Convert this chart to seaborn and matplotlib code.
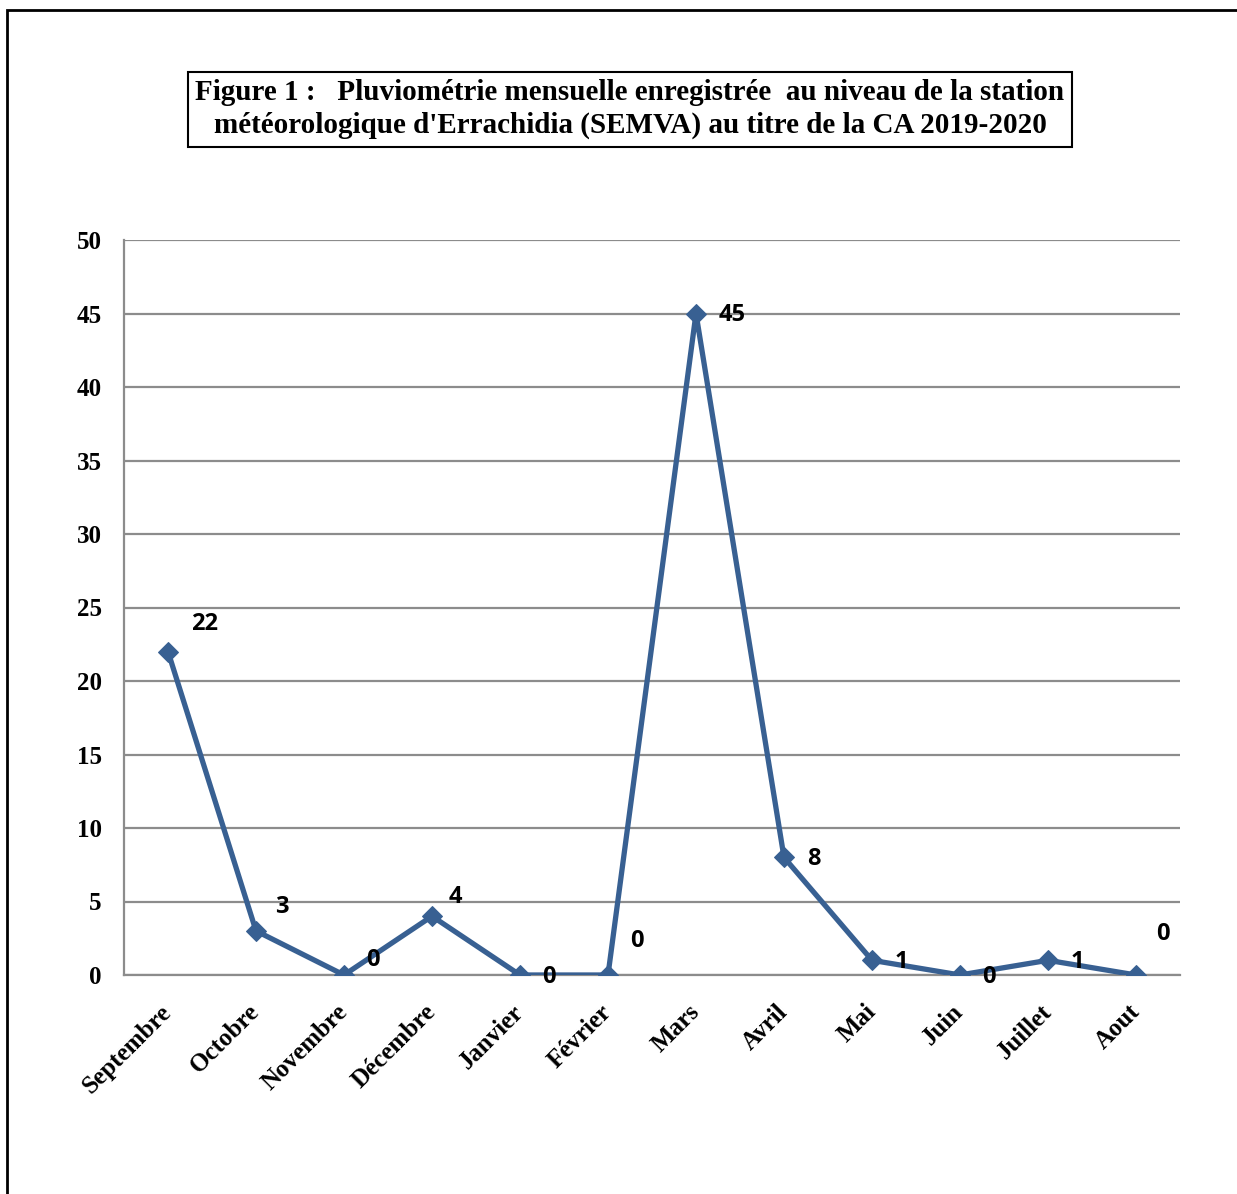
"""
Pluviométrie mensuelle - station météorologique d'Errachidia (SEMVA), CA 2019-2020
Line chart in the style of the original Excel figure.
"""

import matplotlib
matplotlib.use("Agg")
import matplotlib.pyplot as plt
from matplotlib.patches import Rectangle
import seaborn as sns
import pandas as pd

# ── Data ───────────────────────────────────────────────────────────────────────
MONTHS = ["Septembre", "Octobre", "Novembre", "Décembre", "Janvier", "Février",
          "Mars", "Avril", "Mai", "Juin", "Juillet", "Aout"]
RAIN_MM = [22, 3, 0, 4, 0, 0, 45, 8, 1, 0, 1, 0]
Y_TICKS = [0, 5, 10, 15, 20, 25, 30, 35, 40, 45, 50]

# label offsets in pixels (dx, dy), mimicking Excel's label placement
LABEL_OFFSETS = [(37, 28), (26, 24), (29, 15), (23, 19), (29, -2), (29, 34),
                 (36, -1), (30, -2), (29, -2), (29, -2), (29, -2), (27, 41)]

TITLE = ("Figure 1 :   Pluviométrie mensuelle enregistrée  au niveau de la station\n"
         "météorologique d'Errachidia (SEMVA) au titre de la CA 2019-2020")

LINE_COLOR = "#386092"
GRID_COLOR = "#8c8c8c"
SERIF = ["Liberation Serif", "DejaVu Serif"]
SANS = ["Open Sans", "DejaVu Sans"]

# ── Style ──────────────────────────────────────────────────────────────────────
sns.set_style("white")
plt.rcParams["font.family"] = SERIF
plt.rcParams["text.color"] = "black"
plt.rcParams["xtick.labelcolor"] = "black"
plt.rcParams["ytick.labelcolor"] = "black"

df = pd.DataFrame({"mois": MONTHS, "pluie": RAIN_MM})
df["pos"] = range(len(df))

fig = plt.figure(figsize=(12.37, 11.94), dpi=100)
ax = fig.add_axes([124 / 1237, 219 / 1194, (1180 - 124) / 1237, (975 - 240) / 1194])

sns.lineplot(data=df, x="pos", y="pluie", ax=ax, color=LINE_COLOR, lw=3.8,
             marker="D", markersize=10, markeredgecolor=LINE_COLOR, zorder=3)

# ── Axes ───────────────────────────────────────────────────────────────────────
ax.set_xlim(-0.5, len(MONTHS) - 0.5)
ax.set_ylim(0, 50)
ax.set_yticks(Y_TICKS)
ax.set_yticklabels([str(t) for t in Y_TICKS], fontsize=18, fontweight="bold")
ax.set_xticks(range(len(MONTHS)))
ax.set_xticklabels(MONTHS, rotation=45, ha="right", va="center",
                   rotation_mode="anchor", fontsize=18, fontweight="bold")
ax.tick_params(axis="x", length=0, pad=24, labelcolor="black")
ax.tick_params(axis="y", length=6, width=1.5, color=GRID_COLOR, pad=10,
               direction="out", labelcolor="black")
ax.set_xlabel("")
ax.set_ylabel("")

# minor ticks at category boundaries for the x axis tick marks
ax.set_xticks([i - 0.5 for i in range(len(MONTHS) + 1)], minor=True)
ax.tick_params(axis="x", which="minor", length=7, width=1.5, color=GRID_COLOR,
               direction="out")

ax.grid(axis="y", color=GRID_COLOR, lw=1.6)
ax.grid(axis="x", visible=False)
for side in ["top", "right"]:
    ax.spines[side].set_visible(False)
for side in ["left", "bottom"]:
    ax.spines[side].set_color(GRID_COLOR)
    ax.spines[side].set_linewidth(1.6)
ax.set_axisbelow(True)

# ── Data labels ────────────────────────────────────────────────────────────────
for i, v in enumerate(RAIN_MM):
    dx, dy = LABEL_OFFSETS[i]
    ax.annotate(str(v), (i, v), xytext=(dx, dy), textcoords="offset pixels",
                ha="center", va="center", fontsize=17, fontweight="bold",
                family=SANS, color="black", annotation_clip=False, zorder=4)

# ── Title box and outer frame ──────────────────────────────────────────────────
fig.text(630 / 1237, 1 - 109 / 1194, TITLE, ha="center", va="center",
         fontsize=21, fontweight="bold", linespacing=1.3, color="black",
         bbox=dict(boxstyle="square,pad=0.25", fc="white", ec="black", lw=1.5))

fig.patches.append(Rectangle((7 / 1237, -0.05), 1.05, 1 - 10 / 1194 + 0.05,
                             transform=fig.transFigure, fill=False,
                             ec="black", lw=2, zorder=0))

fig.savefig("out.png", dpi=100)
